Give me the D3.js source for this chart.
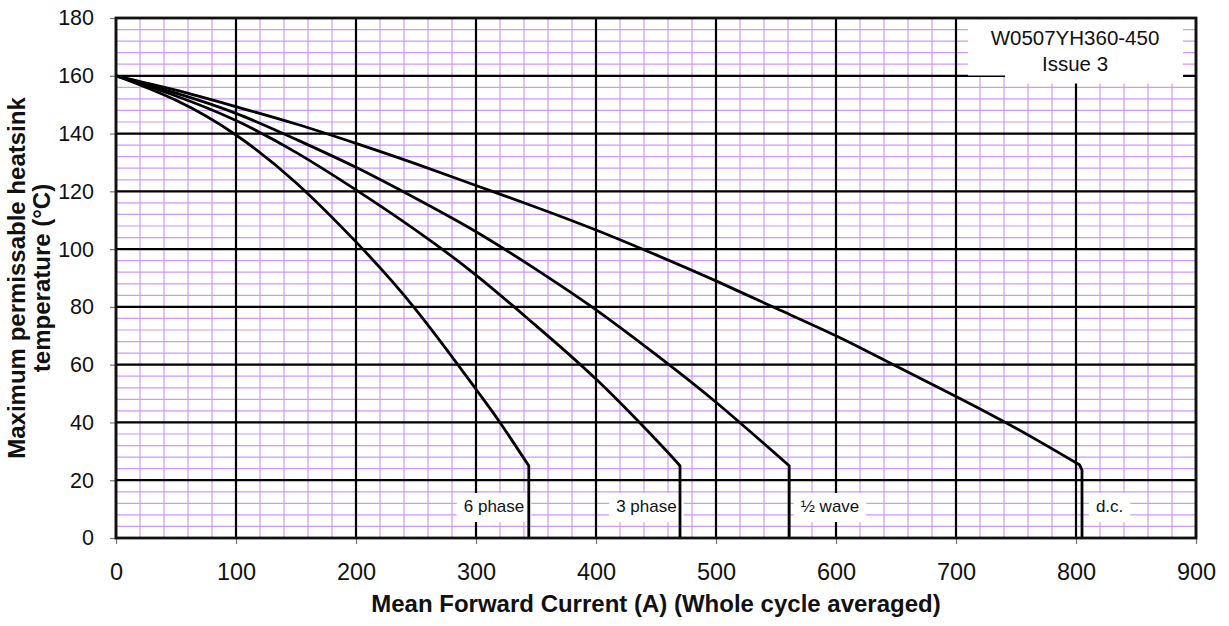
<!DOCTYPE html>
<html>
<head>
<meta charset="utf-8">
<script src="https://cdn.jsdelivr.net/npm/d3@7"></script>
<style>
  body { margin: 0; background: #fff; }
  text { font-family: Arial, "Liberation Sans", sans-serif; }
</style>
</head>
<body>
<svg id="chart"></svg>
<script>
// Maximum permissible heatsink temperature vs mean forward current
const SERIES = ["6 phase", "3 phase", "\u00bd wave", "d.c."];

const CURRENT_6PH = [0, 50, 100, 150, 200, 250, 300, 320, 344];
const TEMP_6PH    = [160, 151.5, 139.5, 123, 102.5, 79, 51.5, 40, 25];

const CURRENT_3PH = [0, 50, 100, 150, 200, 250, 300, 350, 400, 450, 470];
const TEMP_3PH    = [160, 153, 144.5, 133.5, 120.5, 106.5, 91, 73.5, 55, 34, 25];

const CURRENT_HW = [0, 50, 100, 150, 200, 250, 300, 350, 400, 450, 500, 561];
const TEMP_HW    = [160, 154, 147, 138, 128.3, 117.5, 106, 93, 79, 63.5, 47, 25];

const CURRENT_DC = [0, 50, 100, 150, 200, 250, 300, 350, 400, 450, 500, 550, 600, 650, 700, 750, 803];
const TEMP_DC    = [160, 155, 149.3, 143.3, 136.6, 129.5, 122, 114.5, 106.6, 98, 89, 79.5, 70, 59.5, 49, 38, 25.3];

// straight drop to the axis at the end of each curve
const DROP_CURRENT = [344, 470, 561, 805];
const DROP_TEMP    = [25, 25, 25, 23.5];

const X_TICKS = [0, 100, 200, 300, 400, 500, 600, 700, 800, 900];
const Y_TICKS = [0, 20, 40, 60, 80, 100, 120, 140, 160, 180];

const X_TITLE = "Mean Forward Current (A) (Whole cycle averaged)";
const Y_TITLE = ["Maximum permissable heatsink", "temperature (\u00b0C)"];
const NOTE = ["W0507YH360-450", "Issue 3"];

var width = 1229, height = 626;
var plot = {left: 116, right: 1196, top: 18, bottom: 538};

var svg = d3.select("#chart").attr("width", width).attr("height", height);

var x = d3.scaleLinear().domain([0, 900]).range([plot.left, plot.right]);
var y = d3.scaleLinear().domain([0, 180]).range([plot.bottom, plot.top]);

/********* GRID ***********/
var grid = svg.append("g");
grid.selectAll(".minorx").data(d3.range(0, 901, 20)).enter().append("line")
  .attr("x1", d => x(d)).attr("x2", d => x(d))
  .attr("y1", plot.top).attr("y2", plot.bottom)
  .attr("stroke", "#cc99ff").attr("stroke-width", 1.2);
grid.selectAll(".minory").data(d3.range(0, 181, 4)).enter().append("line")
  .attr("x1", plot.left).attr("x2", plot.right)
  .attr("y1", d => y(d)).attr("y2", d => y(d))
  .attr("stroke", "#cc99ff").attr("stroke-width", 1.2);
grid.selectAll(".majorx").data(X_TICKS).enter().append("line")
  .attr("x1", d => x(d)).attr("x2", d => x(d))
  .attr("y1", plot.top).attr("y2", plot.bottom)
  .attr("stroke", "#000").attr("stroke-width", 2.2);
grid.selectAll(".majory").data(Y_TICKS).enter().append("line")
  .attr("x1", plot.left).attr("x2", plot.right)
  .attr("y1", d => y(d)).attr("y2", d => y(d))
  .attr("stroke", "#000").attr("stroke-width", 2.2);

/********* NOTE BOX (top right) ***********/
svg.append("rect").attr("x", 968).attr("y", plot.top + 1.5).attr("width", 215).attr("height", 56).attr("fill", "#fff");
svg.append("rect").attr("x", 1005).attr("y", plot.top + 1.5).attr("width", 178).attr("height", 64).attr("fill", "#fff");
svg.selectAll(".note").data(NOTE).enter().append("text")
  .attr("x", 1075).attr("y", (d, i) => 45 + i * 25.5)
  .attr("text-anchor", "middle").attr("font-size", 20.5).attr("fill", "#111")
  .text(d => d);

/********* CURVE LABELS ***********/
var labelAt = [315, 442, 595, 828];   // label centre (A)
var labels = svg.append("g");
SERIES.forEach(function(name, i) {
  var g = labels.append("g");
  var t = g.append("text")
    .attr("x", x(labelAt[i])).attr("y", 512)
    .attr("text-anchor", "middle").attr("font-size", 17).attr("fill", "#111")
    .text(name);
  var bb = t.node().getBBox();
  g.insert("rect", "text")
    .attr("x", bb.x - 7).attr("y", 493)
    .attr("width", bb.width + 14).attr("height", 29)
    .attr("fill", "#fff");
});

/********* CURVES ***********/
var curves = [
  [CURRENT_6PH, TEMP_6PH],
  [CURRENT_3PH, TEMP_3PH],
  [CURRENT_HW, TEMP_HW],
  [CURRENT_DC, TEMP_DC]
];
var smooth = d3.line().x(d => x(d[0])).y(d => y(d[1])).curve(d3.curveNatural);
var straight = d3.line().x(d => x(d[0])).y(d => y(d[1]));

curves.forEach(function(c, i) {
  var pts = c[0].map((v, j) => [v, c[1][j]]);
  var drop = [[DROP_CURRENT[i], DROP_TEMP[i]], [DROP_CURRENT[i], 0]];
  svg.append("path")
    .attr("d", smooth(pts) + straight(drop).replace("M", "L"))
    .attr("fill", "none")
    .attr("stroke", "#000")
    .attr("stroke-width", 2.8)
    .attr("stroke-linejoin", "round");
});

/********* AXES ***********/
var yAxis = svg.append("g")
  .attr("transform", "translate(" + plot.left + ",0)")
  .call(d3.axisLeft(y).tickValues(Y_TICKS).tickSize(6).tickPadding(16));
var xAxis = svg.append("g")
  .attr("transform", "translate(0," + plot.bottom + ")")
  .call(d3.axisBottom(x).tickValues(X_TICKS).tickSize(6).tickPadding(19));
[yAxis, xAxis].forEach(function(a) {
  a.select(".domain").remove();
  a.selectAll(".tick line").attr("stroke", "#777").attr("stroke-width", 1.2);
  a.selectAll(".tick text").attr("fill", "#111")
    .attr("font-family", "Arial, 'Liberation Sans', sans-serif");
});
yAxis.selectAll(".tick text").attr("font-size", 21.5);
xAxis.selectAll(".tick text").attr("font-size", 23.5);

// plot border
svg.append("rect")
  .attr("x", plot.left).attr("y", plot.top)
  .attr("width", plot.right - plot.left).attr("height", plot.bottom - plot.top)
  .attr("fill", "none").attr("stroke", "#111").attr("stroke-width", 2.8);

/********* TITLES ***********/
svg.append("text")
  .attr("x", (plot.left + plot.right) / 2).attr("y", 612)
  .attr("text-anchor", "middle").attr("font-size", 24).attr("font-weight", "bold")
  .attr("fill", "#111")
  .text(X_TITLE);

svg.selectAll(".ytitle").data(Y_TITLE).enter().append("text")
  .attr("transform", (d, i) => "translate(" + (25 + i * 24.5) + "," + ((plot.top + plot.bottom) / 2) + ") rotate(-90)")
  .attr("text-anchor", "middle").attr("font-size", 24).attr("font-weight", "bold")
  .attr("fill", "#111")
  .text(d => d);
</script>
</body>
</html>
